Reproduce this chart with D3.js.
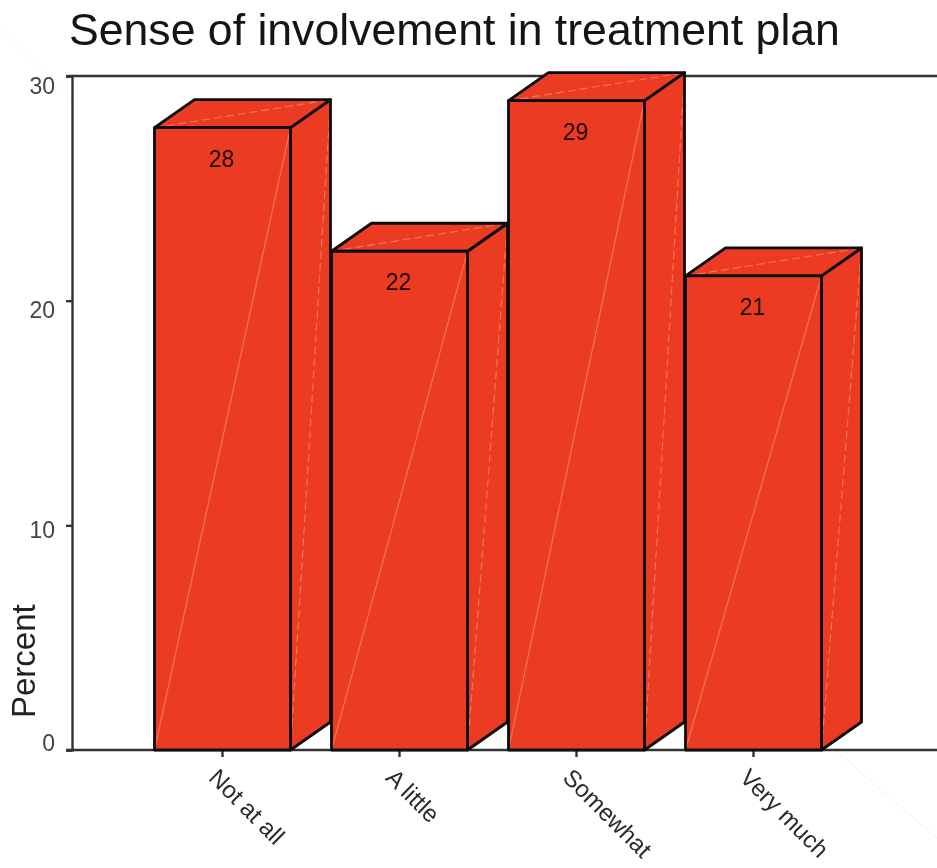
<!DOCTYPE html>
<html>
<head>
<meta charset="utf-8">
<script src="https://cdn.jsdelivr.net/npm/d3@7"></script>
<style>
html,body{margin:0;padding:0;background:#fff}
svg{display:block;filter:blur(0.6px)}
text{font-family:"Liberation Sans",Arial,sans-serif}
</style>
</head>
<body>
<div id="chart"></div>
<script>
// chart data
var categories = ["Not at all","A little","Somewhat","Very much"]
var percents = [27.7,22.2,28.9,21.1]
var valueLabels = ["28","22","29","21"]
var yTicks = [0,10,20,30]

// the tick labels do not sit level with their ticks in the original
var yLabelNudge = [-8,4,9,9]

var w = 937
var h = 868
var depthX = 40
var depthY = 28
var red = "#eb3b23"
var glint = "#f4735a"

var svg = d3.select("#chart").append("svg").attr("width",w).attr("height",h)

var xScale = d3.scaleBand()
    .domain(categories)
    .range([134,842])
    .paddingInner(0.2316)
    .paddingOuter(0.1158)

var yScale = d3.scaleLinear().domain([0,30]).range([750,76])

var line = d3.line()

// faint scan marks in the background
svg.append("path").attr("d",line([[0,28],[72,100]])).attr("stroke","#f3f3f3").attr("fill","none")
svg.append("path").attr("d",line([[835,750],[937,838]])).attr("stroke","#f1f1f6").attr("fill","none")

svg.append("text")
    .attr("x",69)
    .attr("y",45)
    .style("font-size","44.6px")
    .style("fill","#151515")
    .text("Sense of involvement in treatment plan")

svg.append("text")
    .attr("transform","translate(35,718) rotate(-90)")
    .style("font-size","33px")
    .style("fill","#222")
    .text("Percent")

// left axis, ticks and the frame lines
var yAxis = svg.append("g")
    .attr("class","axis")
    .attr("transform","translate(72,0)")
    .call(d3.axisLeft(yScale).tickValues(yTicks).tickSize(6).tickFormat(d3.format("d")))

yAxis.select(".domain").attr("stroke","#333").attr("stroke-width",2.4)
yAxis.selectAll(".tick line").attr("stroke","#333").attr("stroke-width",2.4)
yAxis.selectAll(".tick text")
    .attr("x",-17)
    .attr("dy",function(d,i){ return (yLabelNudge[i]+8)+"px" })
    .style("font-size","23px")
    .style("font-family","'Liberation Sans',Arial,sans-serif")
    .style("fill","#444")

svg.append("path")
    .attr("d",line([[66,yScale(30)],[w,yScale(30)]]))
    .attr("stroke","#333").attr("stroke-width",2.4).attr("fill","none")

var xAxis = svg.append("g")
    .attr("class","axis")
    .attr("transform","translate(0,750)")
    .call(d3.axisBottom(xScale).tickSize(7).tickSizeOuter(0))

xAxis.select(".domain").remove()
xAxis.selectAll(".tick line").attr("stroke","#333").attr("stroke-width",2.4)
xAxis.selectAll(".tick text")
    .attr("x",0)
    .attr("y",0)
    .attr("dy",0)
    .attr("transform","translate(-15,29) rotate(45)")
    .style("text-anchor","start")
    .style("font-size","24px")
    .style("font-family","'Liberation Sans',Arial,sans-serif")
    .style("fill","#2a2a2a")

svg.append("path")
    .attr("d",line([[66,yScale(0)],[w,yScale(0)]]))
    .attr("stroke","#333").attr("stroke-width",2.4).attr("fill","none")

// the boxes
var bars = svg.selectAll(".bar")
    .data(percents)
    .enter()
    .append("g")
    .attr("class","bar")

function corners(d,i){
    var x0 = xScale(categories[i])
    return {x0:x0, x1:x0+xScale.bandwidth(), y0:yScale(0), y1:yScale(d)}
}

function drawFace(cls,pts,diag,dash){
    bars.append("path")
        .attr("class",cls)
        .attr("d",function(d,i){ return line(pts(corners(d,i)))+"Z" })
        .attr("fill",red)
    bars.append("path")
        .attr("class",cls+"-glint")
        .attr("d",function(d,i){ return line(diag(corners(d,i))) })
        .attr("stroke",glint)
        .attr("stroke-width",1.2)
        .attr("stroke-dasharray",dash)
        .attr("fill","none")
    bars.append("path")
        .attr("class",cls+"-edge")
        .attr("d",function(d,i){ return line(pts(corners(d,i)))+"Z" })
        .attr("stroke","#0c0c0c")
        .attr("stroke-width",2.8)
        .attr("stroke-linejoin","round")
        .attr("fill","none")
}

drawFace("side",
    function(c){ return [[c.x1,c.y0],[c.x1+depthX,c.y0-depthY],[c.x1+depthX,c.y1-depthY],[c.x1,c.y1]] },
    function(c){ return [[c.x1,c.y0],[c.x1+depthX,c.y1-depthY]] },
    "8 4")
drawFace("top",
    function(c){ return [[c.x0,c.y1],[c.x0+depthX,c.y1-depthY],[c.x1+depthX,c.y1-depthY],[c.x1,c.y1]] },
    function(c){ return [[c.x0,c.y1],[c.x1+depthX,c.y1-depthY]] },
    "8 4")
drawFace("front",
    function(c){ return [[c.x0,c.y0],[c.x0,c.y1],[c.x1,c.y1],[c.x1,c.y0]] },
    function(c){ return [[c.x0,c.y0],[c.x1,c.y1]] },
    null)

bars.append("text")
    .attr("x",function(d,i){ return xScale(categories[i])+xScale.bandwidth()/2-1 })
    .attr("y",function(d){ return yScale(d)+39 })
    .attr("text-anchor","middle")
    .style("font-size","23px")
    .style("fill","#1a0a05")
    .text(function(d,i){ return valueLabels[i] })
</script>
</body>
</html>
